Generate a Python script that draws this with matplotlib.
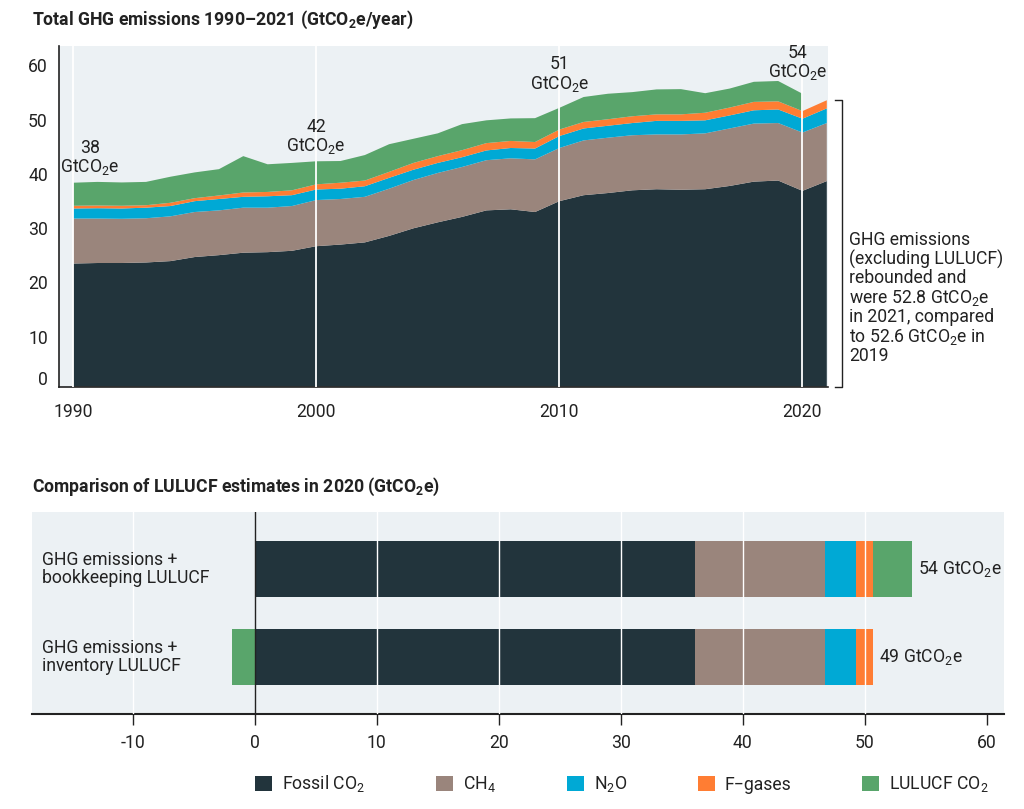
import matplotlib
matplotlib.use("Agg")
import matplotlib.pyplot as plt
import matplotlib.transforms as mtransforms
from matplotlib.patches import Patch
import numpy as np

plt.rcParams['font.family'] = ['Roboto', 'DejaVu Sans']
plt.rcParams['mathtext.fontset'] = 'custom'
plt.rcParams['mathtext.rm'] = 'Roboto'
plt.rcParams['mathtext.it'] = 'Roboto:italic'
plt.rcParams['mathtext.bf'] = 'Roboto:bold'
plt.rcParams['axes.unicode_minus'] = False

# ---------------- data ----------------
years = list(range(1990, 2022))
fossil_co2 = [22.7, 22.8, 22.8, 22.9, 23.15, 23.9, 24.25, 24.7, 24.8, 25.05,
              25.9, 26.2, 26.6, 27.8, 29.2, 30.3, 31.3, 32.5, 32.7, 32.2,
              34.2, 35.3, 35.7, 36.2, 36.4, 36.3, 36.4, 37.0, 37.8, 38.0,
              36.1, 37.9]
ch4 = [8.3, 8.2, 8.15, 8.15, 8.25, 8.3, 8.25, 8.3, 8.2, 8.25,
       8.5, 8.4, 8.4, 8.7, 8.9, 9.1, 9.2, 9.25, 9.4, 9.7,
       9.8, 10.1, 10.2, 10.15, 10.1, 10.2, 10.3, 10.6, 10.7, 10.6,
       10.75, 10.7]
n2o = [1.85, 1.9, 1.9, 1.95, 1.9, 2.0, 2.1, 2.0, 2.1, 2.0,
       1.95, 1.9, 1.95, 2.0, 1.9, 1.85, 1.8, 1.8, 1.9, 2.0,
       2.2, 2.2, 2.2, 2.25, 2.5, 2.5, 2.4, 2.4, 2.45, 2.5,
       2.55, 2.7]
fgases = [0.5, 0.5, 0.5, 0.45, 0.6, 0.55, 0.65, 0.8, 0.8, 0.9,
          0.95, 1.1, 1.05, 1.1, 1.25, 1.25, 1.3, 1.35, 1.3, 1.2,
          1.2, 1.2, 1.2, 1.25, 1.2, 1.2, 1.4, 1.45, 1.55, 1.5,
          1.4, 1.5]
lulucf_co2 = [4.25, 4.35, 4.3, 4.3, 4.8, 4.75, 4.85, 6.7, 5.1, 5.05,
              4.25, 4.0, 4.7, 5.1, 4.45, 4.2, 4.8, 4.2, 4.15, 4.4,
              4.0, 4.6, 4.7, 4.45, 4.6, 4.65, 3.6, 3.5, 3.7, 3.75,
              3.2, np.nan]

label_years = [1990.7, 2000, 2010, 2019.8]
label_values = ["38", "42", "51", "54"]
label_y = [38.6, 42.5, 54.0, 56.1]

bar_labels = ["GHG emissions +\nbookkeeping LULUCF", "GHG emissions +\ninventory LULUCF"]
bar_pos = [1, 0]
bar_fossil = [36.1, 36.1]
bar_ch4 = [10.6, 10.6]
bar_n2o = [2.55, 2.55]
bar_fgas = [1.45, 1.45]
bar_lulucf = [3.2, -1.9]
bar_totals = ["54", "49"]

series_names = ["Fossil CO$_2$", "CH$_4$", "N$_2$O", "F\u2212gases", "LULUCF CO$_2$"]
colors = ["#22343c", "#9a857c", "#00a9d5", "#ff7d33", "#59a56b"]
bg = "#ecf1f4"
dark = "#222222"
FS = 12.7

fig = plt.figure(figsize=(10.24, 8.09), dpi=100)
W, H = 1024, 809

# ---------------- top chart ----------------
ax = fig.add_axes([59 / W, 1 - 386.7 / H, (828 - 59) / W, (386.7 - 46) / H])
ax.set_facecolor(bg)
ax.stackplot(years, fossil_co2, ch4, n2o, fgases, lulucf_co2,
             colors=colors, linewidth=0, zorder=2)
for yr in [1990, 2000, 2010, 2020]:
    ax.axvline(yr, color="white", lw=1.3, zorder=3)
ax.set_xlim(1989.42, 2021.05)
ax.set_ylim(0, 62.8)
ax.set_xticks([1990, 2000, 2010, 2020])
ax.set_yticks([0, 10, 20, 30, 40, 50, 60])
ax.tick_params(axis='both', length=0, labelsize=FS, colors=dark)
ax.tick_params(axis='x', pad=12)
ax.tick_params(axis='y', pad=8)
for s in ['top', 'right']:
    ax.spines[s].set_visible(False)
for s in ['left', 'bottom']:
    ax.spines[s].set_color(dark)
    ax.spines[s].set_linewidth(1.2)
# small vertical nudges of the y tick labels, as in the original layout
for i, lbl in enumerate(ax.get_yticklabels()):
    dy = 6.3 / 72 if i == 0 else -3.0 / 72
    lbl.set_transform(lbl.get_transform() +
                      mtransforms.ScaledTranslation(0, dy, fig.dpi_scale_trans))

for xv, v, yv in zip(label_years, label_values, label_y):
    ax.text(xv, yv, f"{v}\nGtCO$_2$e", ha='center', va='bottom',
            fontsize=FS, color=dark, linespacing=1.03, zorder=4)

# bracket for 2021 excl. LULUCF
excl_2021 = fossil_co2[-1] + ch4[-1] + n2o[-1] + fgases[-1]
tr = ax.get_yaxis_transform()
ax.plot([1.009, 1.018, 1.018, 1.009], [excl_2021, excl_2021, 0, 0],
        transform=tr, color=dark, lw=1.0, clip_on=False)
ax.text(1.027, 16.3,
        "GHG emissions\n(excluding LULUCF)\nrebounded and\nwere 52.8 GtCO$_2$e\n"
        "in 2021, compared\nto 52.6 GtCO$_2$e in\n2019",
        transform=tr, ha='left', va='center', fontsize=FS, color=dark,
        linespacing=1.03)

fig.text(32 / W, 1 - 20 / H, "Total GHG emissions 1990\u20132021 (GtCO$_\\mathbf{2}$e/year)",
         ha='left', va='center', fontsize=FS, fontweight='bold', color=dark)

# ---------------- bottom chart ----------------
ax2 = fig.add_axes([32 / W, 1 - 714.3 / H, (1004 - 32) / W, (714.3 - 512) / H])
ax2.set_facecolor(bg)
h = 0.64
left = [0, 0]
for vals, c in zip([bar_fossil, bar_ch4, bar_n2o, bar_fgas], colors[:4]):
    ax2.barh(bar_pos, vals, left=left, height=h, color=c, lw=0, zorder=2)
    left = [l + v for l, v in zip(left, vals)]
lul_left = [l if v > 0 else 0 for l, v in zip(left, bar_lulucf)]
ax2.barh(bar_pos, bar_lulucf, left=lul_left, height=h, color=colors[4], lw=0, zorder=2)
ends = [l + max(v, 0) for l, v in zip(left, bar_lulucf)]
for p, e, t in zip(bar_pos, ends, bar_totals):
    ax2.annotate(f"{t} GtCO$_2$e", xy=(e, p), xytext=(4, 0), textcoords='offset points',
                 ha='left', va='center', fontsize=FS, color=dark, zorder=5)
xt = [-10, 0, 10, 20, 30, 40, 50, 60]
for xv in [-10, 10, 20, 30, 40, 50]:
    ax2.axvline(xv, color="white", lw=1.0, zorder=3)
ax2.axvline(0, color=dark, lw=1.0, zorder=4)
ax2.set_xlim(-18.25, 61.4)
ax2.set_ylim(-0.65, 1.65)
ax2.set_xticks(xt)
ax2.set_yticks([])
ax2.tick_params(axis='x', length=8, width=1.0, colors=dark, labelsize=FS, pad=6)
for s in ['top', 'right', 'left']:
    ax2.spines[s].set_visible(False)
ax2.spines['bottom'].set_color(dark)
ax2.spines['bottom'].set_linewidth(1.5)
tr2 = ax2.get_yaxis_transform()
for p, lab in zip(bar_pos, bar_labels):
    ax2.text(0.0103, p, lab, transform=tr2, ha='left', va='center',
             fontsize=FS, color=dark, linespacing=1.0)

fig.text(32 / W, 1 - 487 / H, "Comparison of LULUCF estimates in 2020 (GtCO$_\\mathbf{2}$e)",
         ha='left', va='center', fontsize=FS, fontweight='bold', color=dark)

handles = [Patch(facecolor=c, edgecolor='none') for c in colors]
fig.legend(handles, series_names, loc='center left', bbox_to_anchor=(255 / W, 1 - 784 / H),
           ncol=5, frameon=False, fontsize=FS, handlelength=0.97, handleheight=0.97,
           handletextpad=0.57, columnspacing=4.0, borderpad=0, borderaxespad=0,
           labelcolor=dark)

fig.savefig("out.png", dpi=100)
